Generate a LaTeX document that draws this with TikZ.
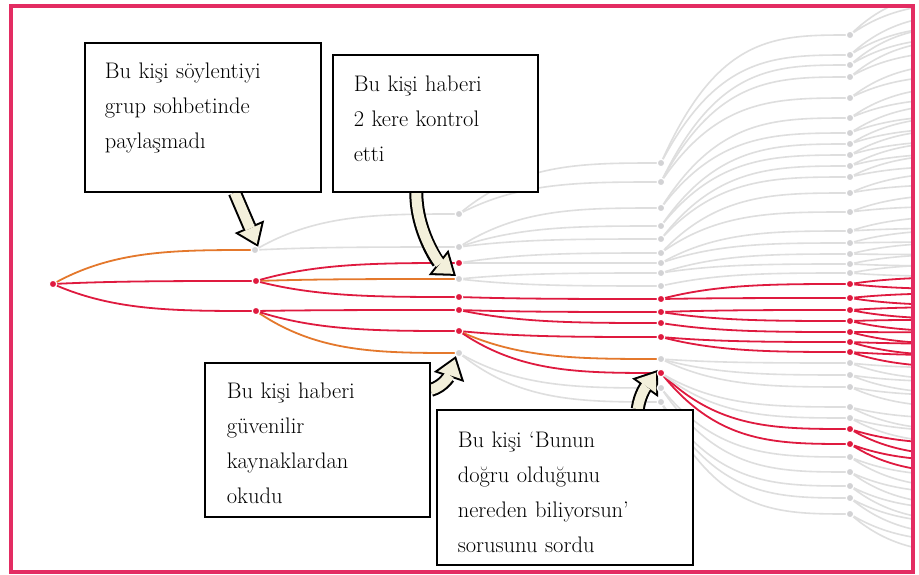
\documentclass[tikz,border=0pt]{standalone}
\usetikzlibrary{arrows.meta,calc}

\definecolor{rumred}{HTML}{DF1A3F}
\definecolor{rumorange}{HTML}{E4782C}
\definecolor{rumgray}{HTML}{DEDEDE}
\definecolor{dotgray}{HTML}{D2D2D4}
\definecolor{framepink}{HTML}{E32C62}
\definecolor{arrowfill}{HTML}{F3F0DB}

\pgfdeclarelayer{edges}
\pgfsetlayers{edges,main}

\tikzset{
  dot/.style={circle, inner sep=0pt, minimum size=7.5pt, draw=white, line width=1.2pt},
  reddot/.style={dot, fill=rumred},
  graydot/.style={dot, fill=dotgray},
  twig/.style={to path={let \p1=(\tikztostart), \p2=(\tikztotarget) in
    .. controls ({\x1+0.3*(\x2-\x1)},\y2) and ({\x1+0.6*(\x2-\x1)},\y2) .. (\tikztotarget)}},
  redline/.style={rumred, line width=1.8pt},
  orangeline/.style={rumorange, line width=1.8pt},
  grayline/.style={rumgray, line width=1.6pt},
  note/.style={draw, line width=1.6pt, fill=white, anchor=north west, align=left,
    inner ysep=0pt, font=\fontsize{22.5}{35}\selectfont},
  callarrow/.style={draw=arrowfill, line width=10pt, shorten >=3.4pt,
    -{Triangle[length=16.6pt,width=24pt,line width=0pt]},
    preaction={draw=black, line width=14pt, shorten >=0pt,
      -{Triangle[length=22pt,width=32pt,line width=0pt]}}}
}

\begin{document}
\begin{tikzpicture}[x=1pt,y=-1pt]
\useasboundingbox (0,0) rectangle (919,575);

% 根节点
\node[reddot] (root) at (53,284) {};
% 第一列
\node[graydot] (a1) at (255,250) {};
\node[reddot] (a2) at (256,281) {};
\node[reddot] (a3) at (256,311) {};
% 第二列
\foreach \h in {214,247,279,353} \node[graydot] (b\h) at (459,\h) {};
\foreach \h in {263,297,310,331} \node[reddot] (b\h) at (459,\h) {};
% 第三列
\foreach \h in {163,182,208,226,239,253,263,273,286,359,388,402} \node[graydot] (c\h) at (661,\h) {};
\foreach \h in {299,312,323,337,373} \node[reddot] (c\h) at (661,\h) {};
% 第四列
\foreach \h in {35,55,65,77,98,118,133,144,155,166,177,193,212,231,243,254,264,273,363,375,387,407,418,457,472,486,498,514}
  \node[graydot] (d\h) at (850,\h) {};
\foreach \h in {284,298,310,321,332,342,352,429,444} \node[reddot] (d\h) at (850,\h) {};

% 说明框
\node[note, text width=196pt, inner xsep=20pt, text height=36pt, text depth=113pt] (note1) at (84,42)
  {Bu kişi söylentiyi\\grup sohbetinde\\paylaşmadı};
\node[note, text width=163pt, inner xsep=21pt, text height=37pt, text depth=100pt] (note2) at (332,54)
  {Bu kişi haberi\\2 kere kontrol\\etti};
\node[note, text width=181pt, inner xsep=22pt, text height=36pt, text depth=118pt] (note3) at (204,362)
  {Bu kişi haberi\\güvenilir\\kaynaklardan\\okudu};
\node[note, text width=214pt, inner xsep=21pt, text height=38pt, text depth=117pt] (note4) at (436,409)
  {Bu kişi ‘Bunun\\doğru olduğunu\\nereden biliyorsun’\\sorusunu sordu};

\begin{pgfonlayer}{edges}
\fill[white] (0,0) rectangle (919,575);
\begin{scope}
\clip (13,8) rectangle (911,570);
% 连线
\foreach \pa/\ch in {root/a1,a2/b279,a3/b353,b331/c359}
  \draw[orangeline] (\pa.center) to[twig] (\ch.center);
\foreach \pa/\ch in {root/a2,root/a3,a2/b263,a2/b297,a3/b310,a3/b331,b297/c299,b310/c312,b310/c323,
    b331/c337,b331/c373,c299/d284,c299/d298,c312/d310,c312/d321,c323/d332,c337/d342,c337/d352,
    c373/d429,c373/d444}
  \draw[redline] (\pa.center) to[twig] (\ch.center);
\foreach \pa/\ch in {a1/b214,a1/b247,b214/c163,b214/c182,b247/c208,b247/c226,b247/c239,b263/c253,
    b263/c263,b279/c273,b279/c286,b353/c388,b353/c402,c163/d35,c163/d55,c182/d65,c182/d77,c182/d98,
    c208/d118,c208/d133,c226/d144,c226/d155,c239/d166,c239/d177,c253/d193,c253/d212,c263/d231,
    c263/d243,c273/d254,c273/d264,c286/d273,c359/d363,c359/d375,c359/d387,c373/d407,c373/d418,
    c388/d457,c388/d472,c402/d486,c402/d498,c402/d514}
  \draw[grayline] (\pa.center) to[twig] (\ch.center);
% 右侧出界的分支
\foreach \h in {35,55,65,77,98,118,133,144,155,166,177,193,212,231,243,254,264,273,363,375,387,407,418,457,472,486,498,514} {
  \coordinate (u\h) at (1000,{1.15*\h-49.5});
  \coordinate (v\h) at (1000,{1.15*\h-37.5});
  \draw[grayline] (d\h.center) to[twig] (u\h) (d\h.center) to[twig] (v\h);
}
\foreach \h in {284,298,310,321,332,342,352,429,444} {
  \coordinate (u\h) at (1000,{1.15*\h-49.5});
  \coordinate (v\h) at (1000,{1.15*\h-37.5});
  \draw[redline] (d\h.center) to[twig] (u\h) (d\h.center) to[twig] (v\h);
}
\end{scope}
% 箭头
\draw[callarrow] ([xshift=32pt]note1.south) -- (a1.north east);
\draw[callarrow] ([xshift=-19pt]note2.south) .. controls +(0,38) and +(-18,-14) .. (b279.north west);
\draw[callarrow] ([yshift=-28pt]note3.north east) .. controls +(14,-4) and +(-6,18) .. (b353.south west);
\draw[callarrow] ([xshift=73pt]note4.north) .. controls +(2,-16) and +(-10,14) .. (c373.north west);
\end{pgfonlayer}

% 外框
\draw[framepink, line width=4pt] (11,6) rectangle (913,572);
\end{tikzpicture}
\end{document}
